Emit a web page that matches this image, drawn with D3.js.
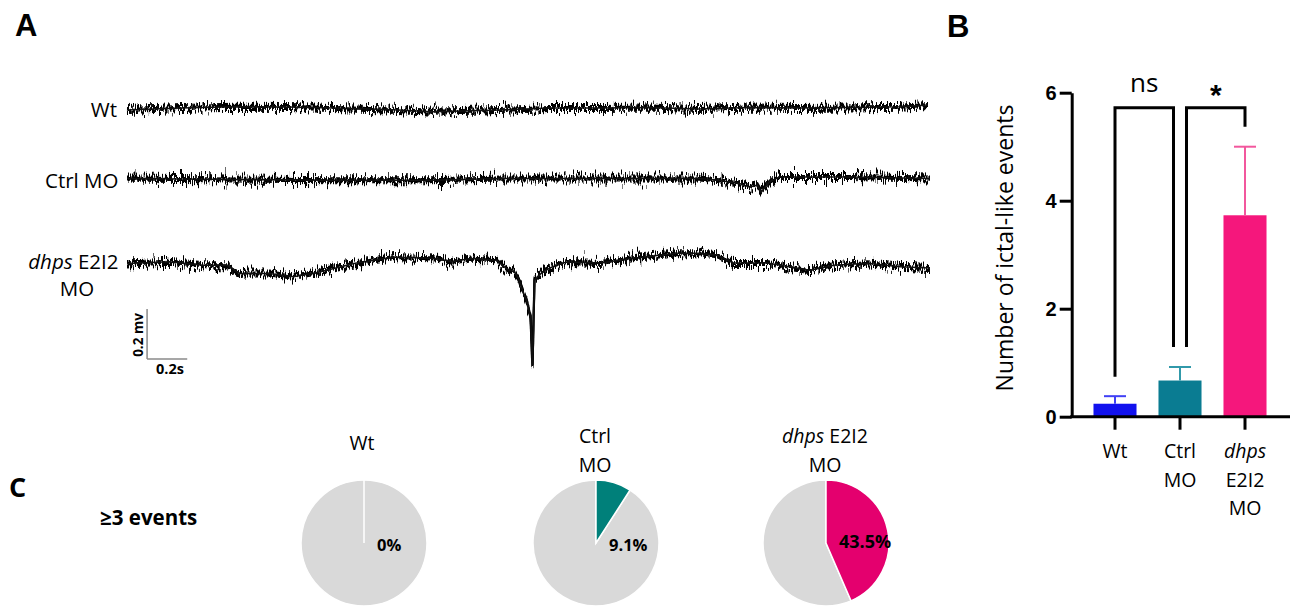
<!DOCTYPE html>
<html>
<head>
<meta charset="utf-8">
<script src="https://cdn.jsdelivr.net/npm/d3@7"></script>
<style>
  html, body { margin: 0; padding: 0; background: #fff; }
  svg { display: block; }
</style>
</head>
<body>
<script>
// ---------------- DATA ----------------
// Panel A: traces, [time (s), relative potential (mV)]
const traceLabels = ["Wt", "Ctrl MO", "dhps E2I2 MO"];
const wtTrace = [[0,-0.008],[0.27,0.0],[0.53,0.005],[0.8,0.004],[1.03,0],[1.3,-0.006],[1.52,-0.015],[1.86,-0.008],[2.1,0.0],[2.36,0],[2.6,0.002],[2.85,-0.004],[3.1,0.002],[3.35,0],[3.6,0.002],[3.85,0.005],[3.99,0.012]];
const ctrlTrace = [[0,0],[0.53,-0.004],[1.03,-0.007],[1.52,-0.007],[1.86,0],[2.36,0],[2.85,0],[2.95,-0.007],[3.05,-0.02],[3.10,-0.034],[3.14,-0.027],[3.16,-0.054],[3.20,-0.013],[3.25,0.006],[3.6,0.006],[4.0,0]];
const dhpsTrace = [[0,0],[0.21,0.007],[0.38,-0.007],[0.50,-0.007],[0.56,-0.04],[0.71,-0.04],[0.83,-0.053],[0.96,-0.034],[1.13,0],[1.33,0.026],[1.54,0.02],[1.62,0.007],[1.71,0.02],[1.84,0.013],[1.89,-0.02],[1.93,-0.034],[1.95,-0.06],[1.97,-0.107],[1.99,-0.147],[2.01,-0.213],[2.02,-0.407],[2.03,-0.067],[2.07,-0.034],[2.12,-0.013],[2.19,0.006],[2.36,0.002],[2.52,0.021],[2.74,0.041],[2.85,0.041],[2.94,0.033],[3.02,0.002],[3.19,0.002],[3.40,-0.027],[3.52,-0.007],[3.69,0.001],[3.85,-0.013],[4.0,-0.018]];
const scaleBarTime = 0.2;   // s
const scaleBarVolt = 0.2;   // mV
const scaleBarLabels = ["0.2 mv", "0.2s"];

// Panel B: bar chart
const groups = ["Wt", "Ctrl MO", "dhps E2I2 MO"];
const meanEvents = [0.24, 0.67, 3.73];
const semEvents = [0.14, 0.25, 1.27];
const yTicks = [0, 2, 4, 6];
const yAxisLabel = "Number of ictal-like events";
const sigLabels = ["ns", "*"];
const sigTop = [5.72, 5.72];
const sigLegBottoms = [[0.74, 1.29], [1.29, 5.37]];

// Panel C: pies
const pieCaption = "\u22653 events";
const pctAtLeast3 = [0, 9.1, 43.5];

// ---------------- STYLE ----------------
const barColors = ["#1212ee", "#0a7c92", "#f5177c"];
const errColors = ["#4040f5", "#3199aa", "#f2579d"];
const pieColors = ["#d9d9d9", "#00807a", "#e4006e"];
const sans = "'Open Sans', sans-serif";
const arial = "'Liberation Sans', Arial, sans-serif";

const W = 1290, H = 606;
const svg = d3.select("body").append("svg").attr("width", W).attr("height", H);
svg.append("rect").attr("width", W).attr("height", H).attr("fill", "#fff");

// texture filters for the recorded traces (visual style only)
const defs = svg.append("defs");
function makeJitter(id, seed, scale, freq) {
  const f = defs.append("filter").attr("id", id)
    .attr("x", "-2%").attr("y", "-80%").attr("width", "104%").attr("height", "260%")
    .attr("color-interpolation-filters", "sRGB");
  f.append("feTurbulence").attr("type", "fractalNoise").attr("baseFrequency", freq)
    .attr("numOctaves", 2).attr("seed", seed).attr("result", "t");
  f.append("feColorMatrix").attr("in", "t").attr("type", "matrix")
    .attr("values", "0 0 0 0 0.5  0 1 0 0 0  0 0 0 0 0  0 0 0 0 1").attr("result", "m");
  f.append("feDisplacementMap").attr("in", "SourceGraphic").attr("in2", "m")
    .attr("scale", scale).attr("xChannelSelector", "R").attr("yChannelSelector", "G").attr("result", "d");
  f.append("feMorphology").attr("in", "d").attr("operator", "dilate").attr("radius", "0 1");
}
makeJitter("jitA", 3, 26, "0.9 0.05");
makeJitter("jitB", 11, 16, "0.9 0.05");

// ---------------- PANEL LABELS ----------------
svg.append("text").attr("x", 15).attr("y", 36).text("A")
  .attr("font-family", arial).attr("font-weight", "bold").attr("font-size", 31);
svg.append("text").attr("x", 947).attr("y", 37).text("B")
  .attr("font-family", arial).attr("font-weight", "bold").attr("font-size", 31);
svg.append("text").attr("x", 9).attr("y", 497).text("C")
  .attr("font-family", sans).attr("font-weight", "bold").attr("font-size", 27);

// ---------------- PANEL A ----------------
const tX = d3.scaleLinear().domain([0, 4]).range([127, 930]);
const bases = [108, 178.5, 263.5];
const traces = [wtTrace, ctrlTrace, dhpsTrace];
const gA = svg.append("g");
traces.forEach((tr, i) => {
  const yS = d3.scaleLinear().domain([0, 0.2]).range([bases[i], bases[i] - 50]);
  const line = d3.line().x(d => tX(d[0])).y(d => yS(d[1]));
  gA.append("path").datum(tr).attr("d", line).attr("fill", "none")
    .attr("stroke", "#000").attr("stroke-width", 2.1).attr("filter", "url(#jitA)");
  gA.append("path").datum(tr).attr("d", line).attr("fill", "none")
    .attr("stroke", "#000").attr("stroke-width", 2.1).attr("filter", "url(#jitB)");
  gA.append("path").datum(tr).attr("d", line).attr("fill", "none")
    .attr("stroke", "#111").attr("stroke-width", 1.6);
});
// trace labels
const lab = gA.append("g").attr("font-family", sans).attr("font-size", 20.5).attr("fill", "#000");
lab.append("text").attr("x", 117).attr("y", 116.5).attr("text-anchor", "end").text(traceLabels[0]);
lab.append("text").attr("x", 118.5).attr("y", 188).attr("text-anchor", "end").text(traceLabels[1]);
const dl = lab.append("text").attr("x", 118.5).attr("y", 268.5).attr("text-anchor", "end");
dl.append("tspan").attr("font-style", "italic").text("dhps");
dl.append("tspan").text(" E2I2");
lab.append("text").attr("x", 77).attr("y", 295.5).attr("text-anchor", "middle").text("MO");

// scale bar
const sbY = d3.scaleLinear().domain([0, scaleBarVolt]).range([359, 309]);
const sb = gA.append("g").attr("stroke", "#8a8a8a").attr("stroke-width", 1.5);
sb.append("line").attr("x1", tX(0.1)).attr("x2", tX(0.1)).attr("y1", sbY(0)).attr("y2", sbY(scaleBarVolt));
sb.append("line").attr("x1", tX(0.1)).attr("x2", tX(0.1 + scaleBarTime)).attr("y1", sbY(0)).attr("y2", sbY(0));
gA.append("text").attr("transform", `translate(143,${(sbY(0) + sbY(scaleBarVolt)) / 2 + 1}) rotate(-90)`)
  .attr("text-anchor", "middle").attr("font-family", sans).attr("font-weight", "bold")
  .attr("font-size", 13.5).text(scaleBarLabels[0]);
gA.append("text").attr("x", 156).attr("y", 373.5).attr("font-family", sans).attr("font-weight", "bold")
  .attr("font-size", 14.5).text(scaleBarLabels[1]);

// ---------------- PANEL B ----------------
const yB = d3.scaleLinear().domain([0, 6]).range([416.7, 92.7]);
const xB = d3.scaleBand().domain(groups).range([1082.5, 1277.5]).paddingInner(0.338).paddingOuter(0.169);
const gB = svg.append("g");

// bars
gB.selectAll("rect.bar").data(groups).join("rect").attr("class", "bar")
  .attr("x", d => xB(d)).attr("width", xB.bandwidth())
  .attr("y", (d, i) => yB(meanEvents[i])).attr("height", (d, i) => yB(0) - yB(meanEvents[i]))
  .attr("fill", (d, i) => barColors[i]);
// error bars
groups.forEach((g, i) => {
  const cx = xB(g) + xB.bandwidth() / 2;
  const top = meanEvents[i] + semEvents[i];
  gB.append("line").attr("x1", cx).attr("x2", cx).attr("y1", yB(meanEvents[i])).attr("y2", yB(top))
    .attr("stroke", errColors[i]).attr("stroke-width", 2);
  gB.append("line").attr("x1", cx - 11).attr("x2", cx + 11).attr("y1", yB(top)).attr("y2", yB(top))
    .attr("stroke", errColors[i]).attr("stroke-width", 2);
});

// y axis
const yAx = gB.append("g").attr("transform", "translate(1071.7,0)")
  .call(d3.axisLeft(yB).tickValues(yTicks).tickSize(12).tickSizeOuter(0).tickPadding(3).tickFormat(d3.format("d")));
yAx.select(".domain").attr("stroke", "#000").attr("stroke-width", 3);
yAx.selectAll(".tick line").attr("stroke", "#000").attr("stroke-width", 3);
yAx.selectAll(".tick text").attr("font-family", arial).attr("font-weight", "bold").attr("font-size", 20).attr("fill", "#000");

// x axis
const xAx = gB.append("g").attr("transform", `translate(0,${yB(0)})`)
  .call(d3.axisBottom(xB).tickSize(13).tickSizeOuter(0).tickFormat(""));
xAx.select(".domain").remove();
xAx.selectAll(".tick line").attr("stroke", "#000").attr("stroke-width", 3);
gB.append("line").attr("x1", 1070.2).attr("x2", 1290).attr("y1", yB(0)).attr("y2", yB(0))
  .attr("stroke", "#000").attr("stroke-width", 3);

// x tick labels (multi-line)
const xl = gB.append("g").attr("font-family", sans).attr("font-size", 19.5).attr("fill", "#000").attr("text-anchor", "middle");
const lineY = [458, 486.5, 515];
const cxOf = g => xB(g) + xB.bandwidth() / 2;
xl.append("text").attr("x", cxOf(groups[0])).attr("y", lineY[0]).text("Wt");
xl.append("text").attr("x", cxOf(groups[1])).attr("y", lineY[0]).text("Ctrl");
xl.append("text").attr("x", cxOf(groups[1])).attr("y", lineY[1]).text("MO");
xl.append("text").attr("x", cxOf(groups[2])).attr("y", lineY[0]).attr("font-style", "italic").text("dhps");
xl.append("text").attr("x", cxOf(groups[2])).attr("y", lineY[1]).text("E2I2");
xl.append("text").attr("x", cxOf(groups[2])).attr("y", lineY[2]).text("MO");

// y label
gB.append("text").attr("transform", "translate(1013,248) rotate(-90)").attr("text-anchor", "middle")
  .attr("font-family", sans).attr("font-size", 23).attr("fill", "#000").text(yAxisLabel);

// significance brackets
const legGap = 6.5;
const brk = [[0, 1], [1, 2]];
brk.forEach((p, k) => {
  const xa = cxOf(groups[p[0]]) + (p[0] === 1 ? legGap : 0);
  const xb = cxOf(groups[p[1]]) - (p[1] === 1 ? legGap : 0);
  const path = d3.path();
  path.moveTo(xa, yB(sigLegBottoms[k][0]));
  path.lineTo(xa, yB(sigTop[k]));
  path.lineTo(xb, yB(sigTop[k]));
  path.lineTo(xb, yB(sigLegBottoms[k][1]));
  gB.append("path").attr("d", path.toString()).attr("fill", "none").attr("stroke", "#000")
    .attr("stroke-width", 3).attr("stroke-linejoin", "miter");
  const t = gB.append("text").attr("x", (xa + xb) / 2).attr("text-anchor", "middle").attr("fill", "#000").text(sigLabels[k]);
  if (k === 0) t.attr("y", 92).attr("font-family", sans).attr("font-size", 26);
  else t.attr("y", 105).attr("font-family", arial).attr("font-weight", "bold").attr("font-size", 30);
});

// ---------------- PANEL C ----------------
const gC = svg.append("g");
gC.append("text").attr("x", 100).attr("y", 525).attr("font-family", sans).attr("font-weight", "bold")
  .attr("font-size", 20.5).text(pieCaption);
const pieCx = [364, 596, 826], pieCy = 543, R = 63;
const pie = d3.pie().sort(null).value(d => d);
const arc = d3.arc().innerRadius(0).outerRadius(R);
pctAtLeast3.forEach((p, i) => {
  const g = gC.append("g").attr("transform", `translate(${pieCx[i]},${pieCy})`);
  const arcs = pie([p, 100 - p]);
  g.append("path").attr("d", arc(arcs[1])).attr("fill", pieColors[0]).attr("stroke", "#fff").attr("stroke-width", 1.5);
  g.append("path").attr("d", arc(arcs[0])).attr("fill", i === 0 ? pieColors[0] : pieColors[i])
    .attr("stroke", "#fff").attr("stroke-width", 1.5);
  g.append("text").attr("x", 13).attr("y", i === 2 ? 5 : 8).attr("font-family", sans).attr("font-weight", "bold")
    .attr("font-size", i === 2 ? 18 : 16.5).attr("fill", "#000").text((p === 0 ? "0" : d3.format(".1f")(p)) + "%");
});
// pie titles
const pt = gC.append("g").attr("font-family", sans).attr("font-size", 19.5).attr("text-anchor", "middle").attr("fill", "#000");
pt.append("text").attr("x", pieCx[0] - 2).attr("y", 450).text("Wt");
pt.append("text").attr("x", pieCx[1] - 1).attr("y", 443).text("Ctrl");
pt.append("text").attr("x", pieCx[1] - 1).attr("y", 471.5).text("MO");
const t3 = pt.append("text").attr("x", pieCx[2] - 1).attr("y", 443);
t3.append("tspan").attr("font-style", "italic").text("dhps");
t3.append("tspan").text(" E2I2");
pt.append("text").attr("x", pieCx[2] - 1).attr("y", 471.5).text("MO");
</script>
</body>
</html>
